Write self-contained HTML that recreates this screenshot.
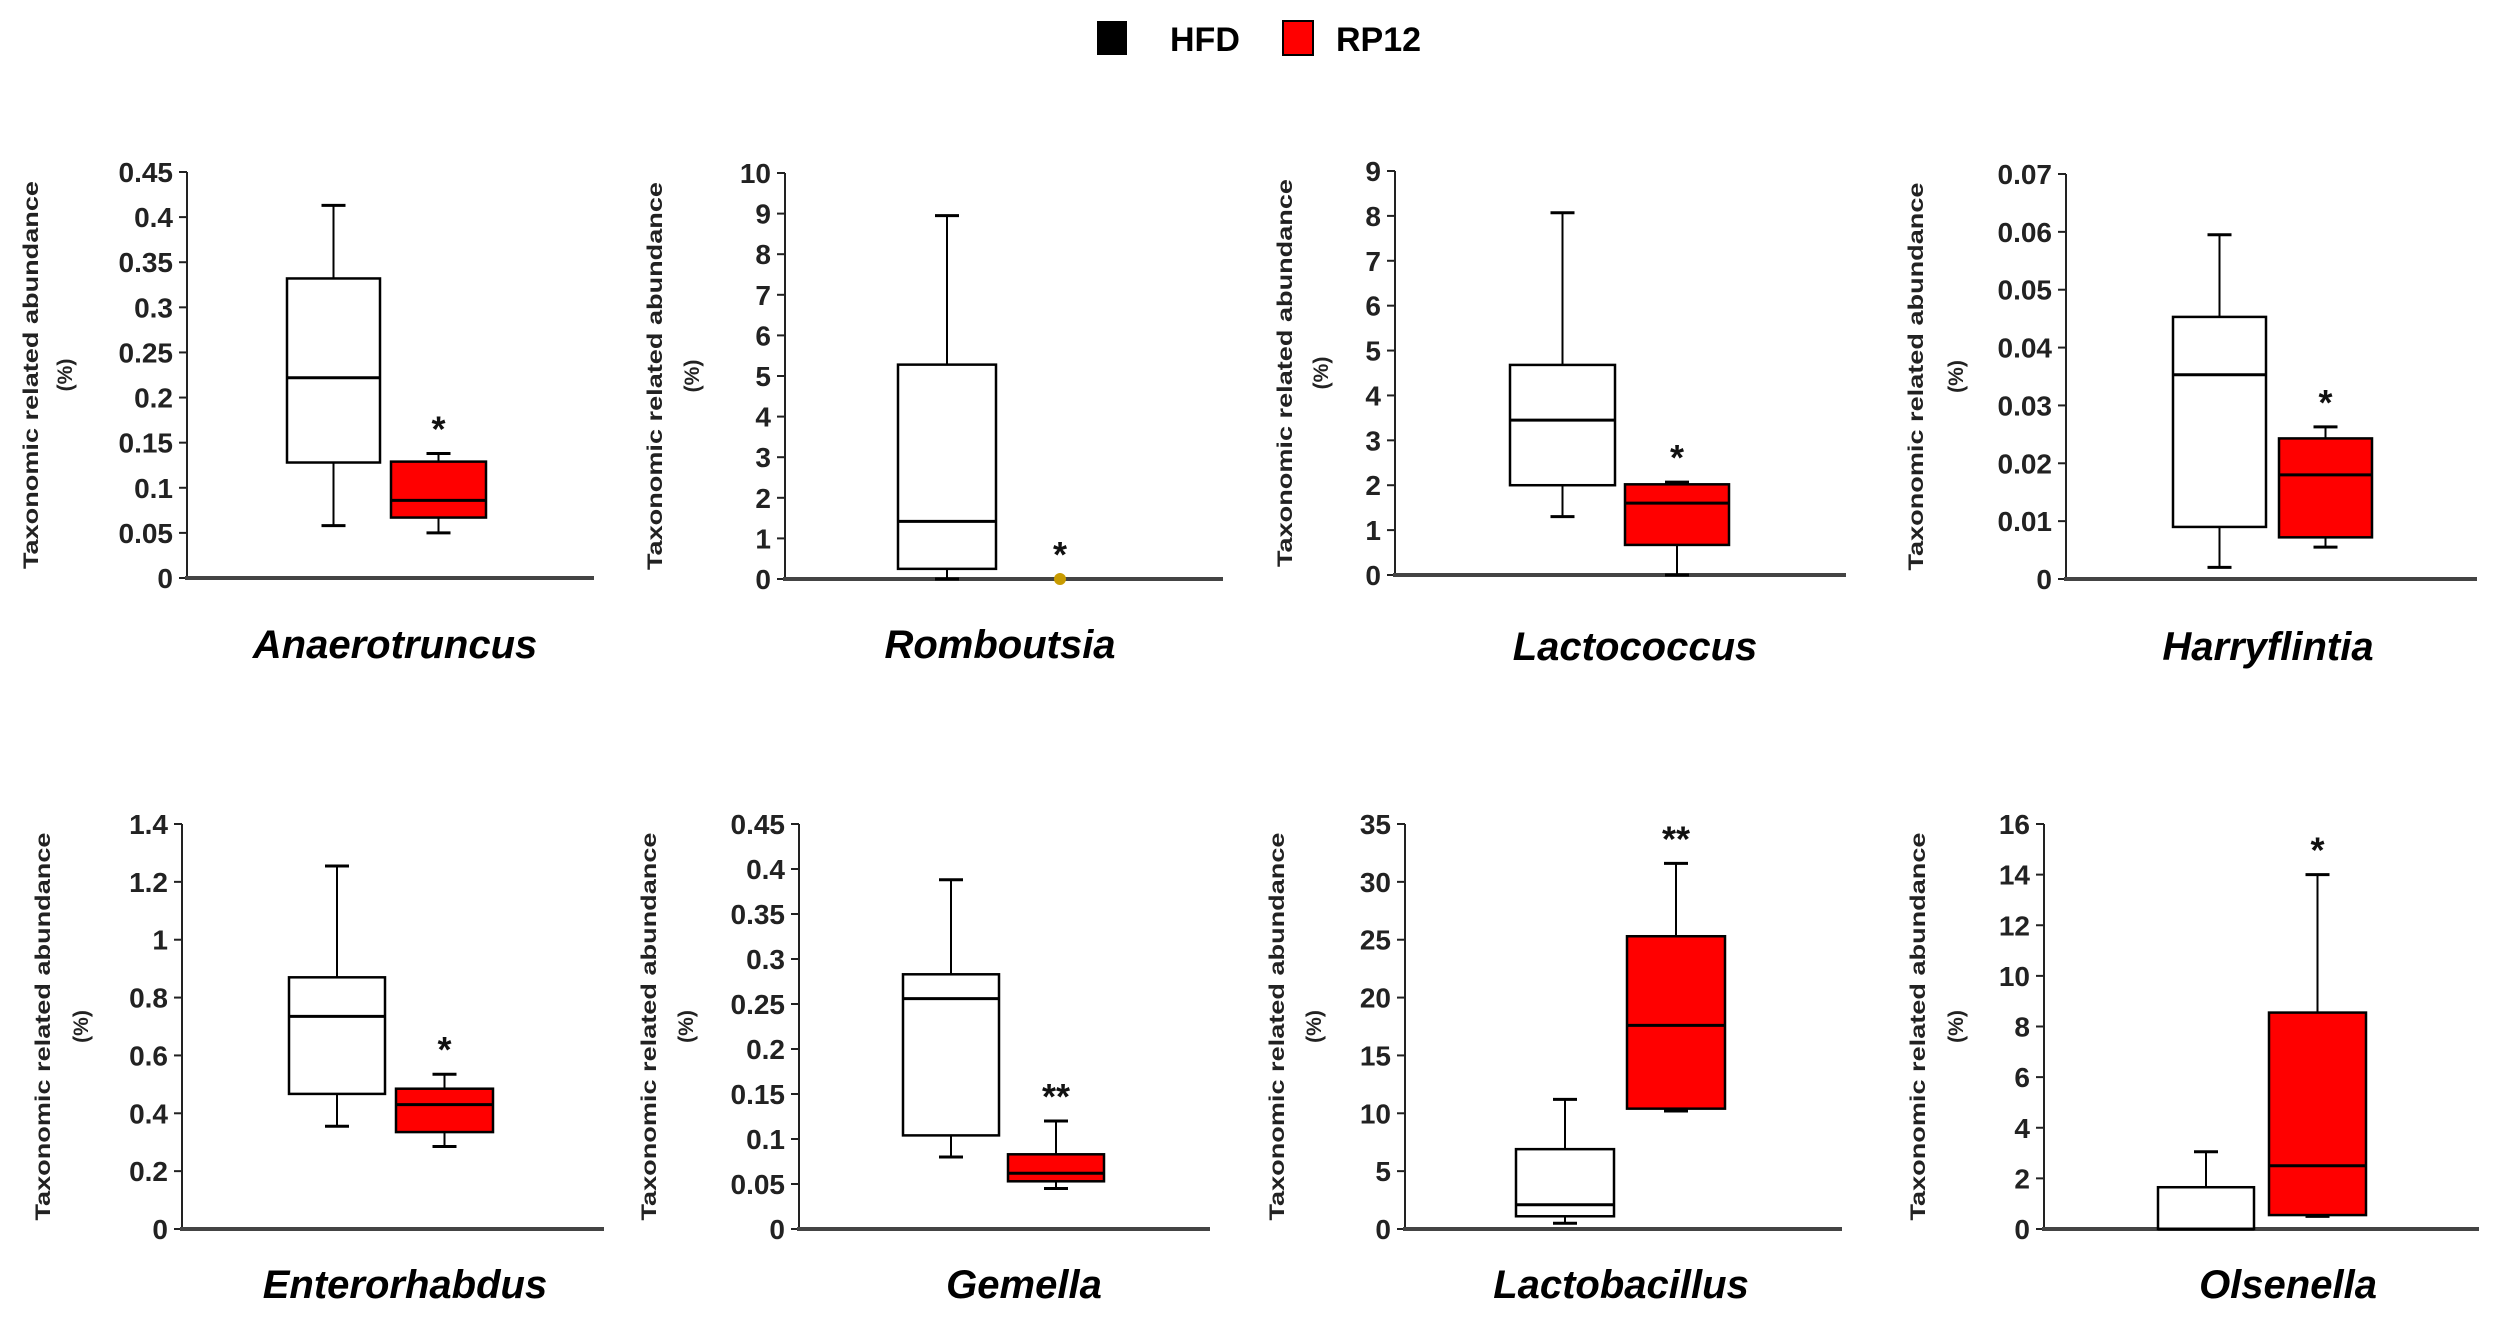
<!DOCTYPE html>
<html><head><meta charset="utf-8"><style>
html,body{margin:0;padding:0;background:#fff;}
svg{display:block;font-family:"Liberation Sans",Arial,sans-serif;}
</style></head><body>
<svg id="chart" width="2495" height="1325" viewBox="0 0 2495 1325" xmlns="http://www.w3.org/2000/svg">
<g>
<rect x="1097" y="21" width="30" height="34" fill="#000"/>
<text x="1170" y="51" font-size="34" font-weight="bold">HFD</text>
<rect x="1283" y="21" width="30" height="34" fill="#f00" stroke="#000" stroke-width="2"/>
<text x="1336" y="51" font-size="34" font-weight="bold">RP12</text>
</g>
<g id="panels"></g>
</svg>
<script>
// ---- data ----
const genera = ["Anaerotruncus","Romboutsia","Lactococcus","Harryflintia","Enterorhabdus","Gemella","Lactobacillus","Olsenella"];
const yMax = [0.45,10,9,0.07,1.4,0.45,35,16];
const yStep = [0.05,1,1,0.01,0.2,0.05,5,2];
const tickLabels = [
 ["0","0.05","0.1","0.15","0.2","0.25","0.3","0.35","0.4","0.45"],
 ["0","1","2","3","4","5","6","7","8","9","10"],
 ["0","1","2","3","4","5","6","7","8","9"],
 ["0","0.01","0.02","0.03","0.04","0.05","0.06","0.07"],
 ["0","0.2","0.4","0.6","0.8","1","1.2","1.4"],
 ["0","0.05","0.1","0.15","0.2","0.25","0.3","0.35","0.4","0.45"],
 ["0","5","10","15","20","25","30","35"],
 ["0","2","4","6","8","10","12","14","16"]
];
// [whiskerLow, q1, median, q3, whiskerHigh]
const hfdStats = [
 [0.058,0.128,0.222,0.332,0.413],
 [0,0.25,1.42,5.28,8.95],
 [1.3,2.0,3.45,4.68,8.07],
 [0.002,0.009,0.0353,0.0453,0.0595],
 [0.355,0.467,0.735,0.87,1.255],
 [0.08,0.104,0.256,0.283,0.388],
 [0.5,1.1,2.1,6.9,11.2],
 [0,0,0,1.65,3.05]
];
const rpStats = [
 [0.05,0.067,0.086,0.129,0.138],
 null,
 [0,0.67,1.6,2.02,2.07],
 [0.0055,0.0072,0.018,0.0243,0.0263],
 [0.285,0.335,0.43,0.485,0.535],
 [0.045,0.053,0.062,0.083,0.12],
 [10.2,10.4,17.6,25.3,31.6],
 [0.5,0.55,2.5,8.55,14]
];
const rpPoint = [null,0,null,null,null,null,null,null];
const stars = ["*","*","*","*","*","**","**","*"];

// ---- layout ----
const axX   = [187,785,1395,2066,182,799,1405,2044];
const axEnd = [594,1223,1846,2477,604,1210,1842,2479];
const axTop = [172,173,171,174,824,824,824,824];
const axBot = [578,579,575,579,1229,1229,1229,1229];
const hfdBox = [[287,380],[898,996],[1510,1615],[2173,2266],[289,385],[903,999],[1516,1614],[2158,2254]];
const rpBox  = [[391,486],[1012,1108],[1625,1729],[2279,2372],[396,493],[1008,1104],[1627,1725],[2269,2366]];
const lab1 = [-157,-131,-111,-151,-140,-151,-129,-127];
const lab2 = [-123,-94,-75,-111,-102,-114,-92,-89];
const titleX = [395,1000,1635,2268,405,1024,1621,2288];
const titleY = [658,658,660,660,1298,1298,1298,1298];

const NS="http://www.w3.org/2000/svg";
const root=document.getElementById('panels');
function mk(tag,attrs,parent){const e=document.createElementNS(NS,tag);for(const k in attrs)e.setAttribute(k,attrs[k]);(parent||root).appendChild(e);return e;}

genera.forEach((g,i)=>{
  const grp=mk('g',{});
  
  
  const y=v=>axBot[i]-v/yMax[i]*(axBot[i]-axTop[i]);
  const ya=mk('line',{x1:axX[i],y1:axTop[i],x2:axX[i],y2:axBot[i],stroke:'#222','stroke-width':2},grp);
  
  
  tickLabels[i].forEach((t,k)=>{
    const yy=y(k*yStep[i]);
    const tk=mk('line',{x1:axX[i]-8,y1:yy,x2:axX[i],y2:yy,stroke:'#222','stroke-width':2},grp);
    
    
    const tl=mk('text',{x:axX[i]-14,y:yy+10,'font-size':28,'font-weight':'bold','text-anchor':'end',fill:'#222'},grp);
    tl.textContent=t;
    
    
  });
  const xa=mk('line',{x1:axX[i]-2,y1:axBot[i],x2:axEnd[i],y2:axBot[i],stroke:'#444','stroke-width':4},grp);
  
  
  const cy=(axTop[i]+axBot[i])/2;
  const l1=mk('text',{x:0,y:0,'font-size':21,'font-weight':'bold','text-anchor':'middle',fill:'#222',textLength:388,lengthAdjust:'spacingAndGlyphs',transform:`translate(${axX[i]+lab1[i]+8},${cy}) rotate(-90)`},grp);
  l1.textContent='Taxonomic related abundance';
  
  
  const l2=mk('text',{x:0,y:0,'font-size':21,'font-weight':'bold','text-anchor':'middle',fill:'#222',transform:`translate(${axX[i]+lab2[i]+8},${cy}) rotate(-90)`},grp);
  l2.textContent='(%)';
  
  
  function box(stats,bx,fill,name){
    const cx=(bx[0]+bx[1])/2;
    const bg=mk('g',{},grp);
    
    
    mk('line',{x1:cx,y1:y(stats[3]),x2:cx,y2:y(stats[4]),stroke:'#000','stroke-width':2},bg);
    mk('line',{x1:cx,y1:y(stats[0]),x2:cx,y2:y(stats[1]),stroke:'#000','stroke-width':2},bg);
    mk('line',{x1:cx-12,y1:y(stats[4]),x2:cx+12,y2:y(stats[4]),stroke:'#000','stroke-width':3},bg);
    mk('line',{x1:cx-12,y1:y(stats[0]),x2:cx+12,y2:y(stats[0]),stroke:'#000','stroke-width':3},bg);
    mk('rect',{x:bx[0],y:y(stats[3]),width:bx[1]-bx[0],height:Math.max(0,y(stats[1])-y(stats[3])),fill:fill,stroke:'#000','stroke-width':2.5},bg);
    mk('line',{x1:bx[0],y1:y(stats[2]),x2:bx[1],y2:y(stats[2]),stroke:'#000','stroke-width':3},bg);
    return y(stats[4]);
  }
  box(hfdStats[i],hfdBox[i],'#fff','box-hfd');
  let topY;
  const rcx=(rpBox[i][0]+rpBox[i][1])/2;
  if(rpStats[i]) topY=box(rpStats[i],rpBox[i],'#f00','box-rp12');
  else{
    const pt=mk('circle',{cx:rcx,cy:y(rpPoint[i]),r:6,fill:'#c89b00'},grp);
    
    
    topY=y(rpPoint[i]);
  }
  const st=mk('text',{x:rcx,y:topY-12,'font-size':36,'font-weight':'bold','text-anchor':'middle',fill:'#111'},grp);
  st.textContent=stars[i];
  
  
  const tt=mk('text',{x:titleX[i],y:titleY[i],'font-size':40,'font-weight':'bold','font-style':'italic','text-anchor':'middle',fill:'#000'},grp);
  tt.textContent=g;
  
  
});
</script>
</body></html>
